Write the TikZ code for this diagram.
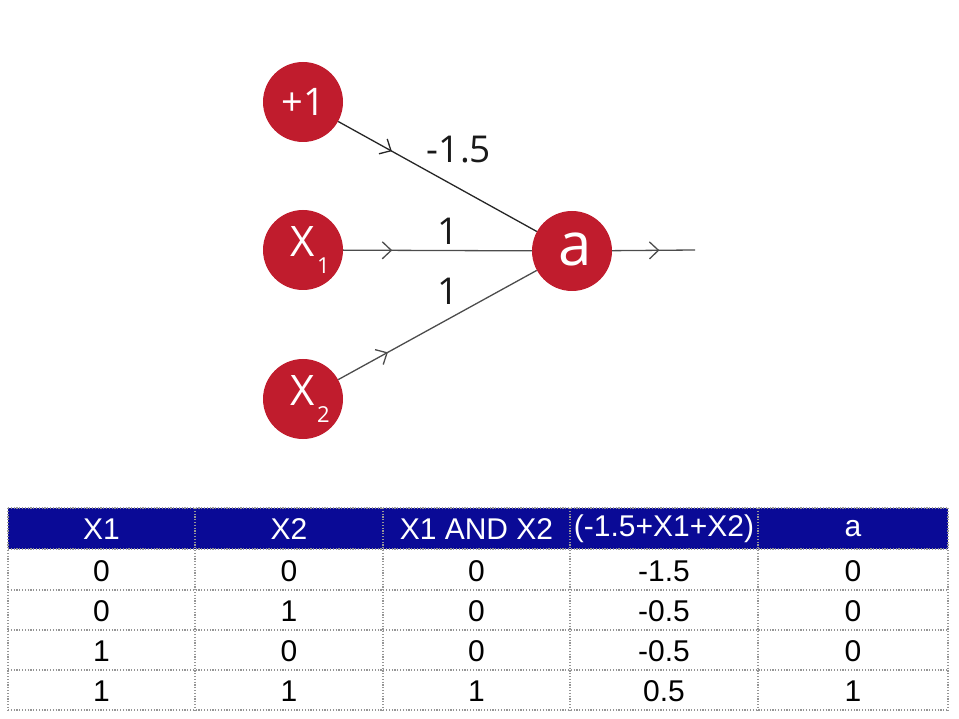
\documentclass[tikz,border=0pt]{standalone}
\usepackage{fontspec}
\setmainfont{Open Sans}
\newfontfamily\tabfont{Liberation Sans}
\usetikzlibrary{arrows.meta,decorations.markings}
\definecolor{nodered}{RGB}{192,28,45}
\definecolor{hdrblue}{RGB}{10,10,150}
\definecolor{gridgray}{RGB}{150,150,150}
\begin{document}
\begin{tikzpicture}[x=1pt,y=-1pt,
  neuron/.style={circle, fill=nodered, minimum size=80pt, inner sep=0pt, text=white, font=\fontsize{38}{38}\selectfont},
  conn/.style={draw=black!85, line width=1.3pt},
  midarrow/.style={postaction={decorate}, decoration={markings, mark=at position #1 with {\arrow{Straight Barb[length=9pt,width=17pt,line width=1.3pt]}}}},
  wlabel/.style={font=\fontsize{37}{37}\selectfont, text=black!90},
  hdr/.style={font=\tabfont\fontsize{30}{30}\selectfont, text=white},
  cell/.style={font=\tabfont\fontsize{30}{30}\selectfont, text=black},
  grid/.style={draw=gridgray, line width=1.6pt, dash pattern=on 1.2pt off 1.6pt}
]
\useasboundingbox (0,0) rectangle (959,719);
% neurons
\node[neuron] (p1) at (303,102) {+1};
\node[neuron, font=\fontsize{42}{42}\selectfont] (x1) at (303,250) {X\rlap{\hspace{2pt}\raisebox{-17pt}{\fontsize{22}{22}\selectfont 1}}};
\node[neuron, font=\fontsize{42}{42}\selectfont] (x2) at (303,399) {X\rlap{\hspace{2pt}\raisebox{-17pt}{\fontsize{22}{22}\selectfont 2}}};
\node[neuron, font=\fontsize{60}{60}\selectfont] (a) at (572,251) {\raisebox{0.06em}{\hspace{0.1em}a}};
\coordinate (out) at (695,250);
% connectors
\draw[conn, midarrow=0.27] (p1) -- (a);
\draw[conn, draw=black!70, midarrow=0.26] (x1) -- (a);
\draw[conn, draw=black!70, midarrow=0.25] (x2) -- (a);
\draw[conn, draw=black!70, midarrow=0.57] (a) -- (out);
% weights
\node[wlabel] (w0) at (459,150) {-1.5};
\node[wlabel] (w1) at (448,231) {1};
\node[wlabel] (w2) at (448,291) {1};
% table header
\fill[hdrblue] (8,508) rectangle (948,549);
% grid lines
\foreach \yy in {508,549,590,630,670,710} {\draw[grid] (8,\yy) -- (948,\yy);}
\foreach \xx in {8,195,383,570,758,948} {\draw[grid] (\xx,508) -- (\xx,710);}
% header texts
\node[hdr] (h1) at (101.5,529) {X1};
\node[hdr] (h2) at (289,529) {X2};
\node[hdr] (h3) at (476.5,529) {X1 AND X2};
\node[hdr] (h4) at (664,529) {(-1.5+X1+X2)};
\node[hdr] (h5) at (853,529) {a};
% rows
\foreach \r/\yy/\va/\vb/\vc/\vd/\ve in {1/571/0/0/0/-1.5/0, 2/611/0/1/0/-0.5/0, 3/651/1/0/0/-0.5/0, 4/691/1/1/1/0.5/1} {
  \node[cell] (r\r c1) at (101.5,\yy) {\va};
  \node[cell] (r\r c2) at (289,\yy) {\vb};
  \node[cell] (r\r c3) at (476.5,\yy) {\vc};
  \node[cell] (r\r c4) at (664,\yy) {\vd};
  \node[cell] (r\r c5) at (853,\yy) {\ve};
}
\end{tikzpicture}
\end{document}
